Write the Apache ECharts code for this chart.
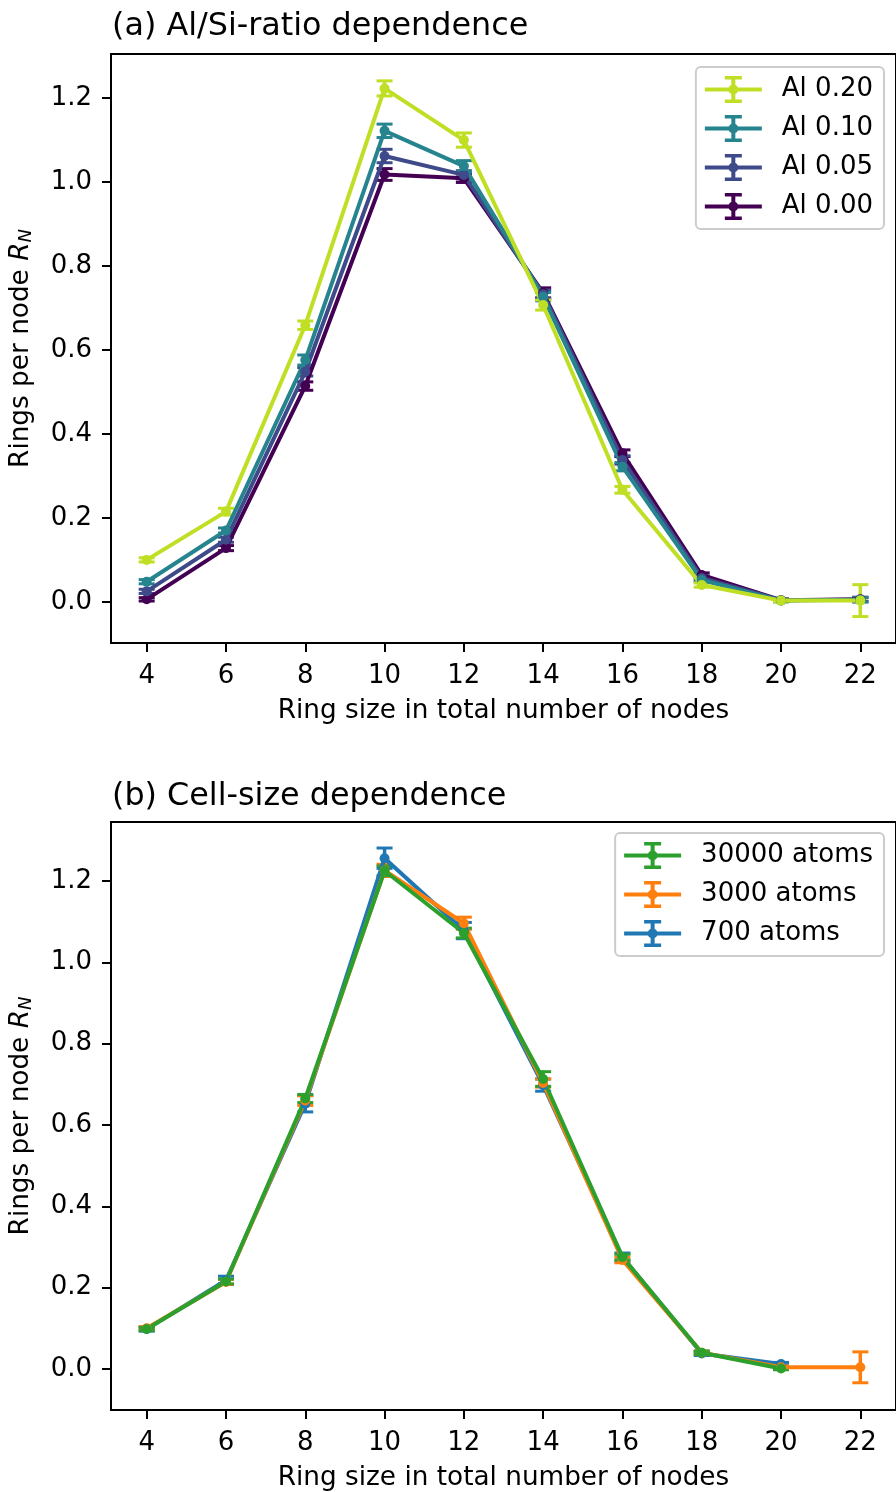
<!DOCTYPE html>
<html><head><meta charset="utf-8">
<script src="https://cdn.jsdelivr.net/npm/echarts@6/dist/echarts.min.js"></script>
<style>html,body{margin:0;padding:0;background:#fff}#c{width:896px;height:1492px}</style>
</head><body><div id="c"></div>
<script>
// ---------- data ----------
const ringSizes = [4, 6, 8, 10, 12, 14, 16, 18, 20, 22];
const xTicks = [4, 6, 8, 10, 12, 14, 16, 18, 20, 22];
const yTicks = [0, 0.2, 0.4, 0.6, 0.8, 1.0, 1.2];

// panel (a): Al/Si-ratio dependence
const al000 = [0.006, 0.128, 0.514, 1.018, 1.009, 0.736, 0.354, 0.064, 0.004, 0.006];
const al000Err = [0.004, 0.006, 0.010, 0.014, 0.010, 0.012, 0.008, 0.005, 0.003, 0.005];
const al005 = [0.025, 0.148, 0.548, 1.062, 1.017, 0.733, 0.338, 0.057, 0.004, 0.005];
const al005Err = [0.005, 0.006, 0.010, 0.016, 0.010, 0.010, 0.010, 0.005, 0.003, 0.005];
const al010 = [0.048, 0.170, 0.576, 1.122, 1.038, 0.727, 0.322, 0.052, 0.003, 0.005];
const al010Err = [0.005, 0.006, 0.012, 0.016, 0.013, 0.010, 0.010, 0.005, 0.003, 0.005];
const al020 = [0.100, 0.215, 0.659, 1.223, 1.100, 0.707, 0.267, 0.040, 0.003, 0.003];
const al020Err = [0.005, 0.008, 0.010, 0.018, 0.017, 0.012, 0.008, 0.005, 0.003, 0.038];

// panel (b): cell-size dependence
const atoms700 = [0.098, 0.218, 0.652, 1.256, 1.078, 0.698, 0.275, 0.038, 0.012];
const atoms700Err = [0.005, 0.010, 0.020, 0.025, 0.020, 0.015, 0.010, 0.005, 0.004];
const atoms3000 = [0.100, 0.214, 0.660, 1.226, 1.096, 0.703, 0.268, 0.040, 0.004, 0.004];
const atoms3000Err = [0.004, 0.006, 0.012, 0.015, 0.015, 0.010, 0.007, 0.004, 0.003, 0.038];
const atoms30000 = [0.098, 0.215, 0.665, 1.225, 1.072, 0.713, 0.275, 0.040, 0.001];
const atoms30000Err = [0.004, 0.006, 0.010, 0.012, 0.012, 0.018, 0.007, 0.004, 0.003];

// ---------- styling ----------
const FONT = 'DejaVu Sans';
const ICON = 'path://M0,11.5 H57 V15.5 H0 Z M26.5,0 H30.5 V27 H26.5 Z M20,0 H37 V3.5 H20 Z M20,23.5 H37 V27 H20 Z M23.5,13.5 A5,5 0 0,1 33.5,13.5 A5,5 0 0,1 23.5,13.5 Z';

function makeSeries(name, ys, errs, color, gi) {
  const pts = ys.map((y, i) => [ringSizes[i], y, errs[i]]);
  const err = {
    type: 'custom', name: name + ' err', xAxisIndex: gi, yAxisIndex: gi,
    data: pts, encode: {x: 0, y: 1}, silent: true, clip: true,
    renderItem: function (params, api) {
      const x = api.value(0), y = api.value(1), e = api.value(2);
      const t = api.coord([x, y + e]);
      const b = api.coord([x, y - e]);
      const cw = 8;
      return {type: 'group', children: [
        {type: 'line', shape: {x1: t[0], y1: t[1], x2: b[0], y2: b[1]}, style: {stroke: color, lineWidth: 3.5}},
        {type: 'line', shape: {x1: t[0] - cw, y1: t[1], x2: t[0] + cw, y2: t[1]}, style: {stroke: color, lineWidth: 3}},
        {type: 'line', shape: {x1: b[0] - cw, y1: b[1], x2: b[0] + cw, y2: b[1]}, style: {stroke: color, lineWidth: 3}}
      ]};
    }
  };
  const line = {
    type: 'line', name: name, xAxisIndex: gi, yAxisIndex: gi,
    data: pts.map(p => [p[0], p[1]]),
    symbol: 'circle', symbolSize: 10, showSymbol: true,
    lineStyle: {color: color, width: 4},
    itemStyle: {color: color, borderWidth: 0},
    emphasis: {disabled: true}
  };
  return [err, line];
}

function xAxis(gi) {
  return {
    gridIndex: gi, type: 'value', min: 3.1, max: 22.9,
    axisLine: {show: true, onZero: false, lineStyle: {color: '#000', width: 2}},
    axisTick: {show: true, customValues: xTicks, length: 9, lineStyle: {color: '#000', width: 2}},
    axisLabel: {customValues: xTicks, fontSize: 26, color: '#000', fontFamily: FONT, margin: 20},
    splitLine: {show: false},
    name: 'Ring size in total number of nodes', nameLocation: 'middle', nameGap: 55,
    nameTextStyle: {fontSize: 26.3, color: '#000', fontFamily: FONT}
  };
}
function yAxis(gi, mn, mx) {
  return {
    gridIndex: gi, type: 'value', min: mn, max: mx,
    axisLine: {show: true, onZero: false, lineStyle: {color: '#000', width: 2}},
    axisTick: {show: true, customValues: yTicks, length: 9, lineStyle: {color: '#000', width: 2}},
    axisLabel: {customValues: yTicks, fontSize: 26, color: '#000', fontFamily: FONT, margin: 19,
      formatter: v => v.toFixed(1)},
    splitLine: {show: false},
    name: '{t|Rings per node }{r|R}{s|N}', nameLocation: 'middle', nameGap: 76, nameRotate: 90,
    nameTextStyle: {fontSize: 26, color: '#000', fontFamily: FONT,
      rich: {
        t: {fontSize: 26.3, color: '#000', fontFamily: FONT},
        r: {fontSize: 26.3, color: '#000', fontFamily: FONT, fontStyle: 'italic'},
        s: {fontSize: 18, color: '#000', fontFamily: FONT, fontStyle: 'italic', verticalAlign: 'bottom', padding: [10, 0, 0, 0]}
      }}
  };
}

const series = [].concat(
  makeSeries('Al 0.00', al000, al000Err, '#440154', 0),
  makeSeries('Al 0.05', al005, al005Err, '#3e4a89', 0),
  makeSeries('Al 0.10', al010, al010Err, '#25848e', 0),
  makeSeries('Al 0.20', al020, al020Err, '#bfdf25', 0),
  makeSeries('700 atoms', atoms700, atoms700Err, '#1f77b4', 1),
  makeSeries('3000 atoms', atoms3000, atoms3000Err, '#ff7f0e', 1),
  makeSeries('30000 atoms', atoms30000, atoms30000Err, '#2ca02c', 1)
);

function legend(names, top) {
  return {
    orient: 'vertical', right: 12, top: top,
    data: names.map(n => ({name: n, icon: ICON})),
    itemWidth: 57, itemHeight: 27, itemGap: 12,
    padding: [9, 11, 9, 9],
    borderColor: '#cccccc', borderWidth: 2, borderRadius: 5, backgroundColor: '#fff',
    itemStyle: {borderWidth: 0},
    textStyle: {fontSize: 26, color: '#000', fontFamily: FONT, padding: [0, 0, 0, 15]},
    selectedMode: false
  };
}

const chart = echarts.init(document.getElementById('c'), null, {renderer: 'canvas'});
chart.setOption({
  animation: false,
  backgroundColor: '#fff',
  title: [
    {text: '(a) Al/Si-ratio dependence', left: 112, top: 11, padding: 0,
      textStyle: {fontSize: 31.8, fontWeight: 'normal', color: '#000', fontFamily: FONT}},
    {text: '(b) Cell-size dependence', left: 112, top: 781, padding: 0,
      textStyle: {fontSize: 31.8, fontWeight: 'normal', color: '#000', fontFamily: FONT}}
  ],
  legend: [
    legend(['Al 0.20', 'Al 0.10', 'Al 0.05', 'Al 0.00'], 67),
    legend(['30000 atoms', '3000 atoms', '700 atoms'], 833)
  ],
  grid: [
    {left: 111, top: 54, width: 787, height: 589, show: true, borderColor: '#000', borderWidth: 2, backgroundColor: 'transparent'},
    {left: 111, top: 822, width: 787, height: 589, show: true, borderColor: '#000', borderWidth: 2, backgroundColor: 'transparent'}
  ],
  xAxis: [xAxis(0), xAxis(1)],
  yAxis: [yAxis(0, -0.098, 1.305), yAxis(1, -0.101, 1.345)],
  series: series
});
</script>
</body></html>
